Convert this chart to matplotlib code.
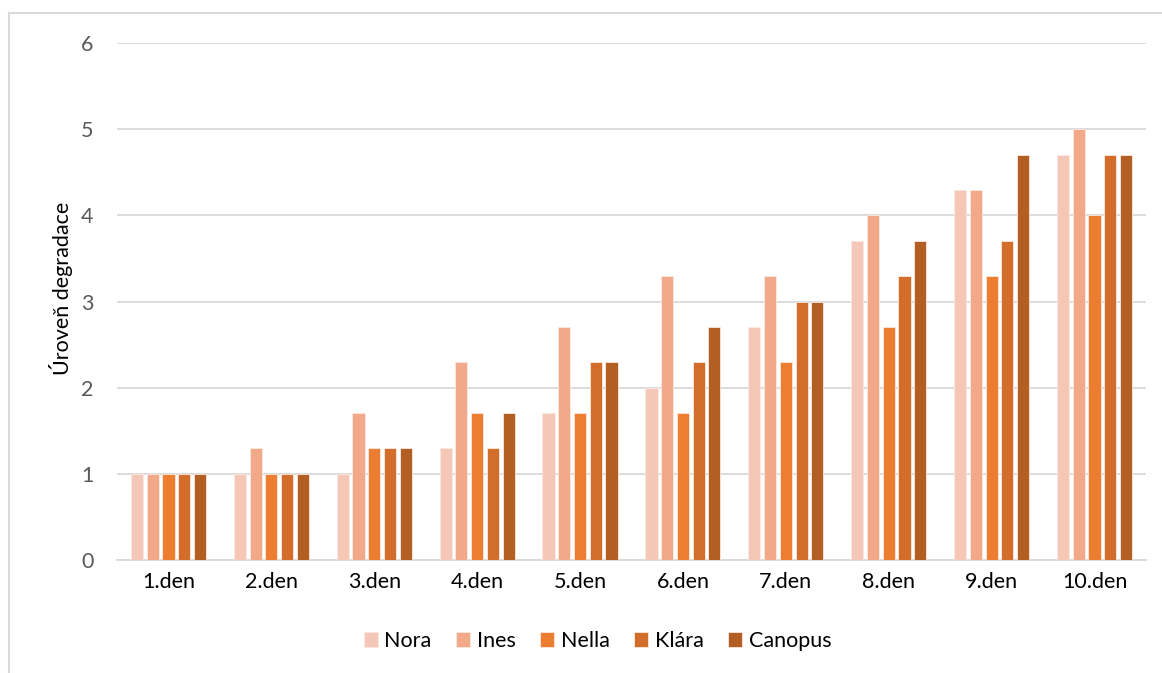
import numpy as np
import matplotlib.pyplot as plt
from matplotlib.lines import Line2D

plt.rcParams['font.family'] = ['Lato', 'DejaVu Sans']

dny = ['1.den', '2.den', '3.den', '4.den', '5.den',
       '6.den', '7.den', '8.den', '9.den', '10.den']
nora = [1, 1, 1, 1.3, 1.7, 2, 2.7, 3.7, 4.3, 4.7]
ines = [1, 1.3, 1.7, 2.3, 2.7, 3.3, 3.3, 4, 4.3, 5]
nella = [1, 1, 1.3, 1.7, 1.7, 1.7, 2.3, 2.7, 3.3, 4]
klara = [1, 1, 1.3, 1.3, 2.3, 2.3, 3, 3.3, 3.7, 4.7]
canopus = [1, 1, 1.3, 1.7, 2.3, 2.7, 3, 3.7, 4.7, 4.7]

serie = [('Nora', nora), ('Ines', ines), ('Nella', nella),
         ('Klára', klara), ('Canopus', canopus)]
barvy = ['#F4C7B7', '#F1A98A', '#ED7D31', '#D26E2A', '#B35E22']

fig = plt.figure(figsize=(11.62, 6.73), dpi=100)
ax = fig.add_axes([0.1007, 0.168, 0.8855, 0.768])

x = np.arange(len(dny))
sirka = 0.118
krok = 0.153
for i, ((jmeno, hodnoty), barva) in enumerate(zip(serie, barvy)):
    ax.bar(x + (i - 2) * krok, hodnoty, sirka, color=barva, label=jmeno,
           edgecolor='#FBE9E0', linewidth=0.6, zorder=3)

ax.set_xlim(-0.5, len(dny) - 0.5)
ax.set_ylim(0, 6)
ax.set_yticks(range(7))
ax.set_xticks(x)
ax.set_xticklabels(dny)
ax.grid(axis='y', color='#D9D9D9', linewidth=1.3, zorder=0)
for s in ['top', 'right', 'left']:
    ax.spines[s].set_visible(False)
ax.spines['bottom'].set_color('#D9D9D9')
ax.spines['bottom'].set_linewidth(1.3)
ax.tick_params(axis='both', length=0, labelsize=15.5)
ax.tick_params(axis='y', pad=17, labelcolor='#595959')
ax.tick_params(axis='x', pad=9, labelcolor='#000000')
ax.set_ylabel('Úroveň degradace', fontsize=15.5)
ax.yaxis.set_label_coords(-0.043, 0.525)

ax.legend(loc='upper center', bbox_to_anchor=(0.467, -0.1), ncol=5,
          frameon=False, fontsize=15.5, handlelength=0.65, handleheight=0.65,
          handletextpad=0.3, columnspacing=1.15)

# rámeček grafu
fig.add_artist(Line2D([9 / 1162, 9 / 1162], [0, 1 - 13 / 673],
                      transform=fig.transFigure, color='#D9D9D9', linewidth=1.5))
fig.add_artist(Line2D([9 / 1162, 1], [1 - 13 / 673, 1 - 13 / 673],
                      transform=fig.transFigure, color='#D9D9D9', linewidth=1.5))

fig.savefig('out.png', dpi=100)
